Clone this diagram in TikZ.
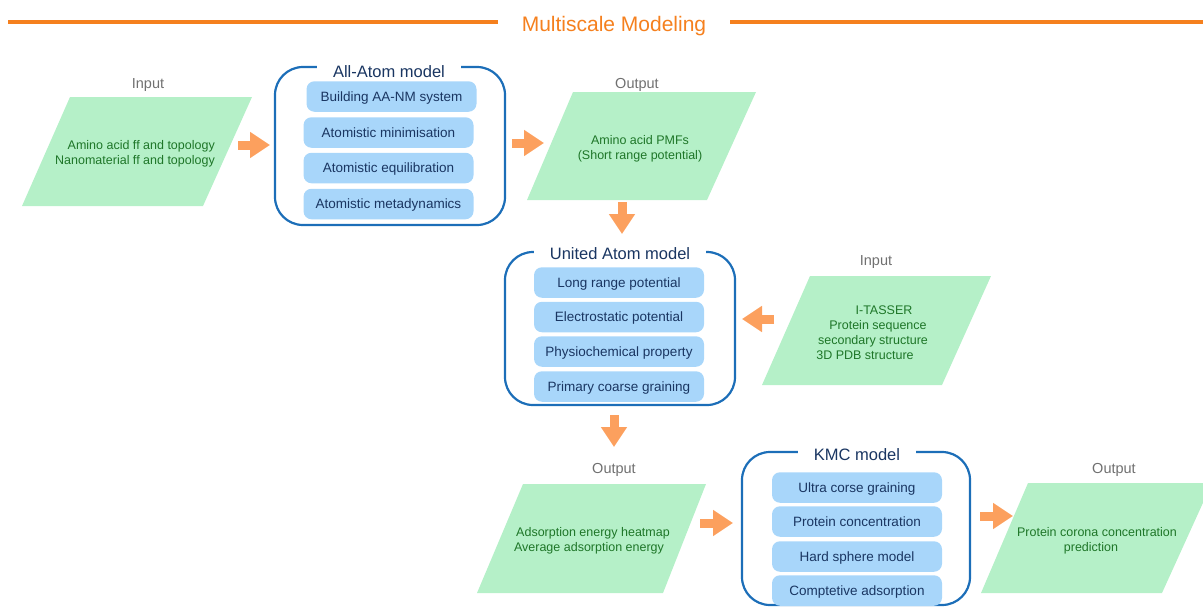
\documentclass[tikz,border=0pt]{standalone}
\usepackage{fontspec}
\setmainfont{Liberation Sans}
\usetikzlibrary{arrows.meta}
\definecolor{pgreen}{RGB}{181,240,200}
\definecolor{tgreen}{RGB}{30,118,40}
\definecolor{mblue}{RGB}{28,110,184}
\definecolor{lblue}{RGB}{168,214,250}
\definecolor{navy}{RGB}{26,54,98}
\definecolor{lgray}{RGB}{112,112,112}
\definecolor{aorange}{RGB}{252,160,94}
\definecolor{torange}{RGB}{245,128,30}
\tikzset{
  para/.style={fill=pgreen, draw=none},
  ptext/.style={text=tgreen, font=\fontsize{12.5}{15}\selectfont, align=center, inner sep=0pt},
  model/.style={draw=mblue, line width=2.2pt, rounded corners=28pt, inner sep=0pt},
  mtitle/.style={fill=white, text=navy, font=\fontsize{16.5}{18}\selectfont, inner xsep=16pt, inner ysep=3pt},
  stepbox/.style={fill=lblue, rounded corners=8pt, text=navy, font=\fontsize{13.5}{15}\selectfont,
     minimum width=170pt, minimum height=30.5pt, inner sep=0pt, text height=10pt, text depth=0.5pt},
  lbl/.style={text=lgray, font=\fontsize{14.5}{16}\selectfont, inner sep=0pt},
  barrow/.style={draw=aorange, line width=9pt, -{Triangle[width=25pt,length=20pt]}},
  tline/.style={draw=torange, line width=3.2pt},
}
\begin{document}
\begin{tikzpicture}[x=1pt,y=-1pt]
\useasboundingbox (0,0) rectangle (1203,606);
% title
\node[text=torange, font=\fontsize{21}{24}\selectfont, inner sep=0pt, anchor=base] (title) at (614,31) {Multiscale Modeling};
\coordinate (tl1) at (8,22);
\coordinate (tl2) at (498,22);
\coordinate (tl3) at (730,22);
\coordinate (tl4) at (1203,22);
\draw[tline] (tl1) -- (tl2);
\draw[tline] (tl3) -- (tl4);

% parallelograms
\fill[para] (70,97) -- (252,97) -- (203,206) -- (22,206) -- cycle;
\fill[para] (573,92) -- (756,92) -- (707,200) -- (527,200) -- cycle;
\fill[para] (810,276) -- (991,276) -- (942,385) -- (762,385) -- cycle;
\fill[para] (523,484) -- (706,484) -- (663,593) -- (477,593) -- cycle;
\fill[para] (1028,483) -- (1212,483) -- (1162,593) -- (981,593) -- cycle;

% labels
\node[lbl] (lin1) at (148,85) {Input};
\node[lbl] (lout1) at (637,84.5) {Output};
\node[lbl] (lin2) at (876,262.5) {Input};
\node[lbl] (lout2) at (614,469.5) {Output};
\node[lbl] (lout3) at (1114,469.5) {Output};

% green texts
\node[ptext, align=right, anchor=east] (in1) at (215,153.5) {Amino acid ff and topology\\Nanomaterial ff and topology};
\node[ptext] (out1) at (640,148.5) {Amino acid PMFs\\(Short range potential)};
\node[ptext] (in2) at (873,332.5) {\hspace*{22pt}I-TASSER\\\hspace*{10pt}Protein sequence\\secondary structure\hspace*{2pt}\\3D PDB structure\hspace*{16pt}};
\node[ptext] (out2) at (593,541) {Adsorption energy heatmap\\Average adsorption energy\hspace*{8pt}};
\node[ptext] (out3) at (1097,540.5) {Protein corona concentration\\prediction\hspace*{12pt}};

% All-Atom model
\node[model, minimum width=230pt, minimum height=158pt] (aa) at (390,146) {};
\node[mtitle] (aat) at (389,72) {All-Atom model};
\node[stepbox] (aa1) at (391.5,96.5) {Building AA-NM system};
\node[stepbox] (aa2) at (388.5,132.5) {Atomistic minimisation};
\node[stepbox] (aa3) at (388.5,168) {Atomistic equilibration};
\node[stepbox] (aa4) at (388.5,204) {Atomistic metadynamics};

% United Atom model
\node[model, minimum width=230pt, minimum height=153pt] (ua) at (620,328.5) {};
\node[mtitle] (uat) at (620,254) {United Atom model};
\node[stepbox] (ua1) at (619,282.5) {Long range potential};
\node[stepbox] (ua2) at (619,317) {Electrostatic potential};
\node[stepbox] (ua3) at (619,351.5) {Physiochemical property};
\node[stepbox] (ua4) at (619,386.5) {Primary coarse graining};

% KMC model
\node[model, minimum width=228pt, minimum height=153pt] (kmc) at (856,528.5) {};
\node[mtitle] (kmct) at (857,455) {KMC model};
\node[stepbox] (k1) at (857,487.5) {Ultra corse graining};
\node[stepbox] (k2) at (857,521.5) {Protein concentration};
\node[stepbox] (k3) at (857,556.5) {Hard sphere model};
\node[stepbox] (k4) at (857,590.5) {Comptetive adsorption};

% arrows
\coordinate (a1s) at (238,145); \coordinate (a1e) at (270,145);
\coordinate (a2s) at (512,143); \coordinate (a2e) at (544,143);
\coordinate (a3s) at (622,202); \coordinate (a3e) at (622,234);
\coordinate (a4s) at (774,319); \coordinate (a4e) at (742,319);
\coordinate (a5s) at (614,415); \coordinate (a5e) at (614,447);
\coordinate (a6s) at (700,523); \coordinate (a6e) at (733,523);
\coordinate (a7s) at (980,516); \coordinate (a7e) at (1013,516);
\draw[barrow] (a1s) -- (a1e);
\draw[barrow] (a2s) -- (a2e);
\draw[barrow] (a3s) -- (a3e);
\draw[barrow] (a4s) -- (a4e);
\draw[barrow] (a5s) -- (a5e);
\draw[barrow] (a6s) -- (a6e);
\draw[barrow] (a7s) -- (a7e);
\end{tikzpicture}
\end{document}
